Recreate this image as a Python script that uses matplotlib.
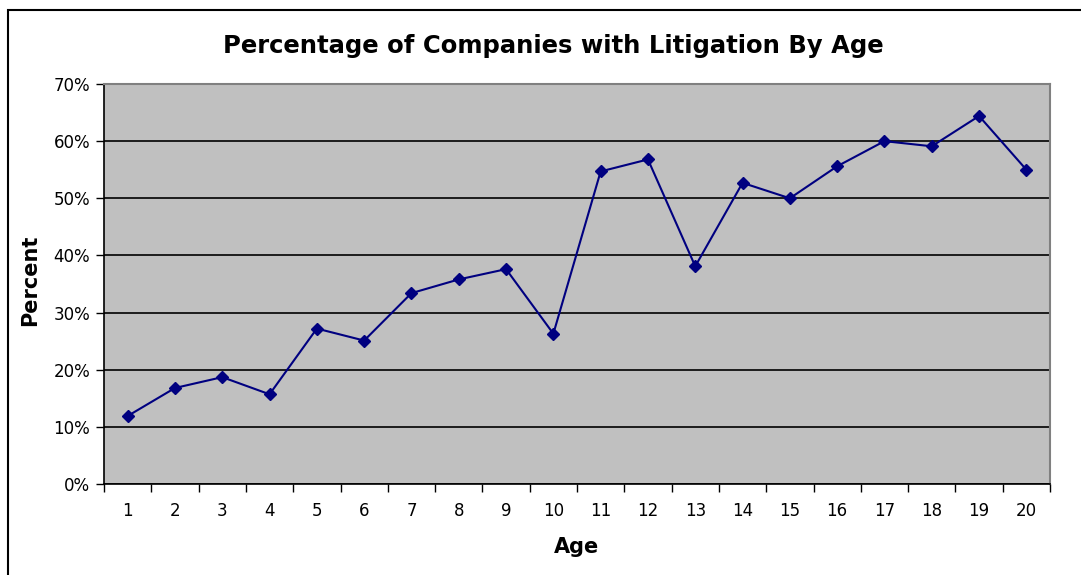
import matplotlib.pyplot as plt
from matplotlib.patches import Rectangle
from matplotlib.ticker import FixedLocator, FuncFormatter

plt.rcParams['font.family'] = ['DejaVu Sans']

ages = list(range(1, 21))
percent = [11.9, 16.8, 18.7, 15.7, 27.2, 25.1, 33.4, 35.8, 37.6, 26.3,
           54.7, 56.8, 38.1, 52.7, 50.0, 55.6, 60.0, 59.1, 64.4, 55.0]
yticks = [0, 10, 20, 30, 40, 50, 60, 70]

W, H = 1081, 575
fig = plt.figure(figsize=(W / 100, H / 100), dpi=100)

# outer chart border (right and bottom edges run off the image)
fig.add_artist(Rectangle((8 / W, -0.05), 1.1, 1 - 10 / H + 0.05,
                         transform=fig.transFigure, fill=False,
                         edgecolor='black', lw=1.5))

ax = fig.add_axes([104 / W, 1 - 484 / H, (1050 - 104) / W, (484 - 84) / H])
ax.set_facecolor('#c0c0c0')
for s in ['top', 'right']:
    ax.spines[s].set_color('#808080')
    ax.spines[s].set_linewidth(1.5)
for s in ['left', 'bottom']:
    ax.spines[s].set_color('black')
    ax.spines[s].set_linewidth(1.2)

ax.set_xlim(0.5, 20.5)
ax.set_ylim(0, 70)
ax.set_yticks(yticks)
ax.yaxis.set_major_formatter(FuncFormatter(lambda v, p: f'{v:.0f}%'))
ax.grid(axis='y', color='black', lw=1.2)
ax.set_axisbelow(True)

ax.set_xticks(ages)
ax.set_xticklabels([str(a) for a in ages])
ax.xaxis.set_minor_locator(FixedLocator([a + 0.5 for a in [0] + ages]))
ax.tick_params(axis='x', which='major', length=0, pad=13, labelsize=12)
ax.tick_params(axis='x', which='minor', length=6, width=1, direction='out')
ax.tick_params(axis='y', length=6, width=1, direction='out', labelsize=12, pad=4)

ax.plot(ages, percent, color='#000080', lw=1.5, marker='D', markersize=6.5,
        clip_on=False, zorder=3)

ax.set_xlabel('Age', fontsize=15, fontweight='bold', labelpad=12)
ax.set_ylabel('Percent', fontsize=15, fontweight='bold')
ax.yaxis.set_label_coords(-0.068, 0.51)
fig.text(553 / W, 1 - 46 / H, 'Percentage of Companies with Litigation By Age',
         ha='center', va='center', fontsize=17.5, fontweight='bold')

fig.savefig('out.png', dpi=100)
